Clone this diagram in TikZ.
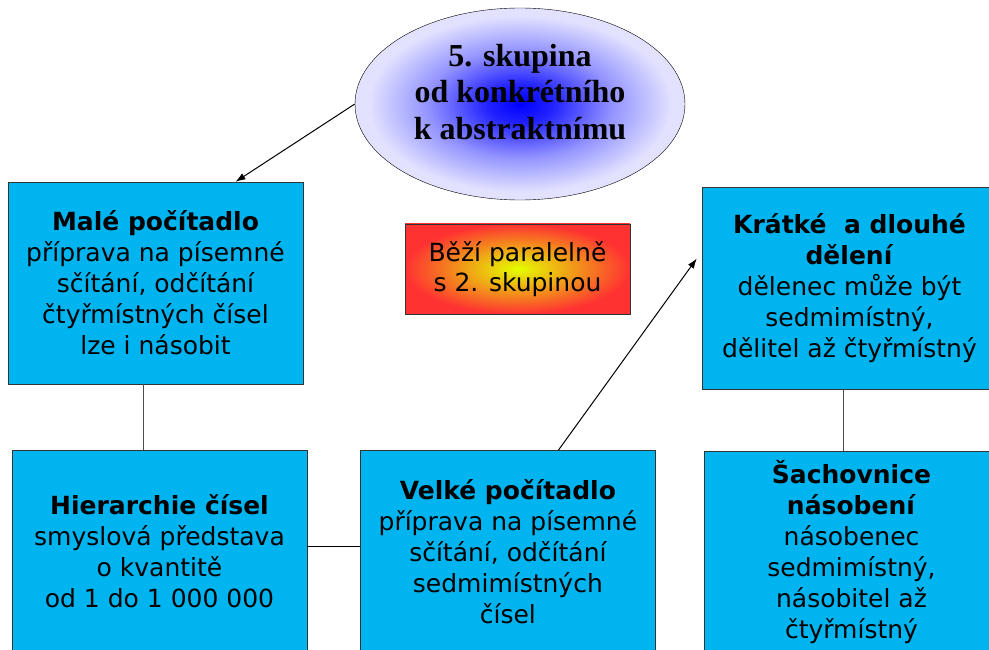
\documentclass[tikz,border=0pt]{standalone}
\usepackage{fontspec}
\setmainfont{DejaVu Sans}
\newfontfamily\timesbf{Liberation Serif}
\usepackage{tikz}
\usetikzlibrary{arrows,arrows.meta,positioning,shapes}

\definecolor{boxblue}{RGB}{0,180,240}
\definecolor{elllav}{RGB}{226,226,255}
\definecolor{parred}{RGB}{255,50,50}
\definecolor{paryel}{RGB}{228,255,0}
\pgfdeclareradialshading{ellblue}{\pgfpoint{0bp}{0bp}}{%
  color(0bp)=(blue); color(5bp)=(blue!85!elllav);
  color(14bp)=(blue!35!elllav); color(23bp)=(elllav); color(50bp)=(elllav)}

\begin{document}
\begin{tikzpicture}
        [x=1pt,y=-1pt,node distance=60pt,>={Latex[length=10pt,width=7pt]},
         block/.style = {draw=black!80, fill=boxblue, shape=rectangle, align=center,
                         minimum width=295pt, minimum height=202pt, inner sep=0pt,
                         font=\fontsize{25}{31}\selectfont},
         eblock/.style = {draw, shape=ellipse, shading=ellblue,
                         minimum width=330pt, minimum height=192pt, inner sep=0pt},
         etext/.style = {align=center, inner sep=0pt,
                         font=\timesbf\bfseries\fontsize{32}{36.5}\selectfont},
         pblock/.style = {draw=black!80, shape=rectangle, inner color=paryel, outer color=parred,
                         align=center, minimum width=225pt, minimum height=90pt, inner sep=0pt,
                         font=\fontsize{25}{30}\selectfont},
         conn/.style = {draw=black!70, line width=1pt},
        ]

        \useasboundingbox (0,0) rectangle (989,650);
        \clip (0,0) rectangle (989,650);

        \node [eblock] at (520,104)                   (skupina) {};
        \node [etext, above=12pt of skupina.center, anchor=center] (skupinatxt) {5. skupina\\ od konkrétního\\ k abstraktnímu};
        \node [pblock] at (517.5,269)                 (paral)   {Běží paralelně\\ s 2. skupinou};
        \node [block]  at (155.5,283)                 (male)    {\textbf{Malé počítadlo}\\ příprava na písemné\\ sčítání, odčítání\\ čtyřmístných čísel\\ lze i násobit};
        \node [block, below=66pt of male, xshift=4pt] (hier)    {\textbf{Hierarchie čísel}\\ smyslová představa\\ o kvantitě\\ od 1 do 1 000 000};
        \node [block, right=53pt of hier]             (velke)   {\textbf{Velké počítadlo}\\ příprava na písemné\\ sčítání, odčítání\\ sedmimístných\\ čísel};
        \node [block]  at (849.5,288.5)               (kratke)  {\textbf{Krátké~ a dlouhé}\\ \textbf{dělení}\\ dělenec může být\\ sedmimístný,\\ dělitel až čtyřmístný};
        \node [block, below=61pt of kratke, xshift=2pt] (sach)  {\textbf{Šachovnice}\\ \textbf{násobení}\\ násobenec\\ sedmimístný,\\ násobitel až\\ čtyřmístný};

        \draw[->, line width=1pt] (skupina.west) -- ([xshift=80pt]male.north);
        \draw[->, line width=1pt] ([xshift=50.5pt]velke.north) -- ([xshift=-5pt,yshift=30pt]kratke.west);
        \draw[conn] ([xshift=-12.5pt]male.south) -- ([xshift=-12.5pt]male.south |- hier.north);
        \draw[conn, draw=black] ([yshift=5pt]hier.east) -- ([yshift=5pt]velke.west);
        \draw[conn] ([xshift=-6.5pt]kratke.south) -- ([xshift=-6.5pt]kratke.south |- sach.north);

\end{tikzpicture}
\end{document}
